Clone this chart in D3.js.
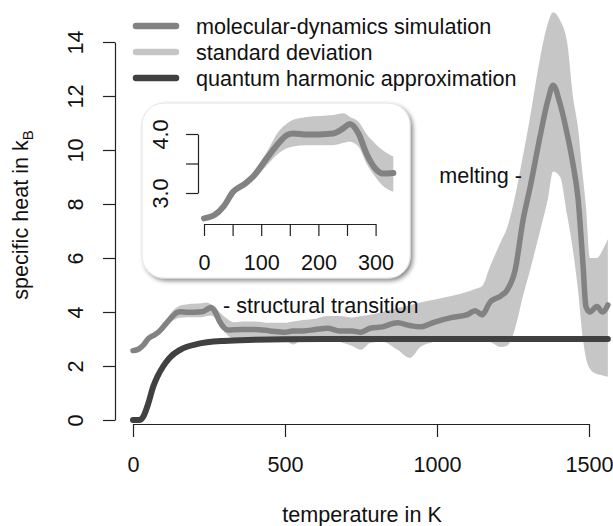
<!DOCTYPE html>
<html>
<head>
<meta charset="utf-8">
<script src="https://cdn.jsdelivr.net/npm/d3@7"></script>
<style>
  body { margin: 0; background: #fff; }
  text { font-family: "Liberation Sans", Arial, sans-serif; fill: #111; }
</style>
</head>
<body>
<div id="chart"></div>
<script>
// temperature grid (K) of the MD run
var temps = [0, 19, 34, 51, 72, 86, 110, 130, 145, 156, 180, 226, 244, 255, 270, 284, 299, 313, 331,
    360, 400, 450, 500, 526, 560, 600, 640, 680, 720, 750, 780, 820, 870, 911, 945, 990,
    1050, 1100, 1125, 1148, 1175, 1210, 1230, 1257, 1283, 1306, 1339, 1365, 1382, 1405,
    1428, 1447, 1464, 1480, 1490, 1503, 1526, 1545, 1562];
// mean specific heat (kB)
var mdMean = [2.57, 2.63, 2.77, 3.02, 3.16, 3.28, 3.59, 3.84, 3.98, 4.01, 3.99, 4.01, 4.1, 4.17, 4.01, 3.67, 3.42, 3.33, 3.34,
    3.35, 3.35, 3.3, 3.25, 3.3, 3.3, 3.35, 3.4, 3.3, 3.3, 3.25, 3.4, 3.45, 3.6, 3.5, 3.45, 3.62,
    3.8, 3.9, 4.05, 3.9, 4.37, 4.6, 4.8, 5.55, 7.4, 8.6, 10.5, 11.85, 12.4, 11.7,
    10.6, 9.5, 8.2, 5.8, 4.2, 4.0, 4.2, 4.0, 4.26];
// mean + standard deviation
var sdHigh = [2.6, 2.66, 2.81, 3.07, 3.22, 3.35, 3.7, 4.04, 4.18, 4.24, 4.29, 4.32, 4.35, 4.29, 4.21, 4.0, 3.84, 3.72, 3.62,
    3.65, 3.65, 3.6, 3.6, 3.65, 3.7, 3.75, 3.85, 3.85, 3.8, 3.85, 3.9, 4.0, 4.15, 4.25, 4.35, 4.45,
    4.6, 4.75, 4.85, 4.95, 5.7, 6.6, 7.1, 8.3, 9.8, 11.2, 13.4, 14.7, 15.1, 14.8,
    14.0, 12.0, 10.8, 9.0, 7.9, 6.0, 6.0, 6.3, 6.7];
// mean - standard deviation
var sdLow = [2.54, 2.6, 2.73, 2.97, 3.1, 3.21, 3.47, 3.67, 3.76, 3.79, 3.81, 3.81, 3.85, 3.87, 3.79, 3.5, 3.28, 3.12, 3.02,
    3.05, 3.05, 3.0, 2.95, 2.8, 3.0, 3.05, 3.05, 2.9, 2.75, 2.6, 2.85, 2.9, 2.6, 2.3, 2.7, 2.9,
    3.0, 3.0, 3.1, 3.0, 2.9, 2.7, 2.75, 3.4, 4.6, 5.55, 7.0, 8.2, 9.2, 9.0,
    7.6, 6.3, 4.8, 3.0, 2.3, 1.9, 1.7, 1.65, 1.6];

// quantum harmonic approximation
var qhTemps = [0, 20, 35, 50, 66, 80, 100, 120, 155, 210, 300, 400, 500, 700, 1000, 1300, 1562];
var qhHeat = [0, 0, 0.15, 0.6, 1.22, 1.6, 2.0, 2.3, 2.6, 2.81, 2.93, 2.97, 2.99, 3.0, 3.0, 3.0, 3.0];

var xTicks = [0, 500, 1000, 1500];
var yTicks = [0, 2, 4, 6, 8, 10, 12, 14];
var insetXTicks = [0, 50, 100, 150, 200, 250, 300];
var insetXLabels = [0, 100, 200, 300];
var insetYTicks = [3, 3.5, 4];
var insetYLabels = [3, 4];
var insetMaxT = 331;

var legendItems = ["molecular-dynamics simulation", "standard deviation", "quantum harmonic approximation"];

var colMean = "#828282", colSd = "#c6c6c6", colQh = "#404040";
var fontSize = 21.6;

var width = 613, height = 526;

var svg = d3.select("#chart").append("svg")
    .attr("width", width)
    .attr("height", height);

var data = temps.map(function(t, i) {
    return {t: t, m: mdMean[i], lo: sdLow[i], hi: sdHigh[i]};
});
var qhData = qhTemps.map(function(t, i) { return {t: t, c: qhHeat[i]}; });

//main panel
var x = d3.scaleLinear().domain([0, 1500]).range([133, 589]);
var y = d3.scaleLinear().domain([0, 14]).range([420, 42]);

svg.append("path")
    .datum(data)
    .attr("fill", colSd)
    .attr("d", d3.area().curve(d3.curveMonotoneX)
        .x(d => x(d.t)).y0(d => y(d.lo)).y1(d => y(d.hi)));

svg.append("path")
    .datum(qhData)
    .attr("fill", "none")
    .attr("stroke", colQh)
    .attr("stroke-width", 6)
    .attr("stroke-linecap", "round")
    .attr("d", d3.line().curve(d3.curveMonotoneX).x(d => x(d.t)).y(d => y(d.c)));

svg.append("path")
    .datum(data)
    .attr("fill", "none")
    .attr("stroke", colMean)
    .attr("stroke-width", 5.5)
    .attr("stroke-linecap", "round")
    .attr("stroke-linejoin", "round")
    .attr("d", d3.line().curve(d3.curveMonotoneX).x(d => x(d.t)).y(d => y(d.m)));

//axes
var xAxis = svg.append("g")
    .attr("transform", "translate(0,424)")
    .call(d3.axisBottom(x).tickValues(xTicks).tickSize(13).tickSizeOuter(0).tickFormat(d3.format("d")));
styleAxis(xAxis);
xAxis.selectAll("text").attr("y", 48).attr("dy", 0);

var yAxis = svg.append("g")
    .attr("transform", "translate(115,0)")
    .call(d3.axisLeft(y).tickValues(yTicks).tickSize(12).tickSizeOuter(0));
styleAxis(yAxis);
yAxis.selectAll("text")
    .attr("x", 0).attr("y", -32).attr("dy", 0)
    .attr("text-anchor", "middle")
    .attr("transform", "rotate(-90)");

svg.append("text")
    .attr("x", 362).attr("y", 522)
    .attr("text-anchor", "middle")
    .style("font-size", fontSize + "px")
    .text("temperature in K");

var yLab = svg.append("text")
    .attr("transform", "translate(28,215) rotate(-90)")
    .attr("text-anchor", "middle")
    .style("font-size", fontSize + "px");
yLab.append("tspan").text("specific heat in k");
yLab.append("tspan").attr("dy", 5).style("font-size", "15px").text("B");

//annotations
svg.append("text")
    .attr("x", 522).attr("y", 183)
    .attr("text-anchor", "end")
    .style("font-size", fontSize + "px")
    .text("melting -");

svg.append("text")
    .attr("x", 223).attr("y", 313)
    .style("font-size", fontSize + "px")
    .text("- structural transition");

//legend
var legendCols = [colMean, colSd, colQh];
var legend = svg.append("g");
legendItems.forEach(function(label, i) {
    var ly = 26 + i * 26;
    legend.append("line")
        .attr("x1", 136).attr("x2", 176)
        .attr("y1", ly).attr("y2", ly)
        .attr("stroke", legendCols[i])
        .attr("stroke-width", 6.5)
        .attr("stroke-linecap", "round");
    legend.append("text")
        .attr("x", 196).attr("y", ly + 8)
        .style("font-size", fontSize + "px")
        .text(label);
});

//inset
var defs = svg.append("defs");
defs.append("filter")
    .attr("id", "shadow")
    .attr("x", "-10%").attr("y", "-10%")
    .attr("width", "130%").attr("height", "130%")
    .append("feDropShadow")
    .attr("dx", 2.5).attr("dy", 2.5)
    .attr("stdDeviation", 2)
    .attr("flood-color", "#000")
    .attr("flood-opacity", 0.45);

svg.append("rect")
    .attr("x", 142).attr("y", 103)
    .attr("width", 268).attr("height", 175)
    .attr("rx", 22)
    .attr("fill", "#fff")
    .attr("stroke", "#e4e4e4")
    .attr("stroke-width", 1)
    .attr("filter", "url(#shadow)");

var xi = d3.scaleLinear().domain([0, 300]).range([204, 375.6]);
var yi = d3.scaleLinear().domain([3, 4]).range([193, 134]);
var insetData = data.filter(d => d.t <= insetMaxT);

svg.append("path")
    .datum(insetData)
    .attr("fill", colSd)
    .attr("d", d3.area().curve(d3.curveMonotoneX)
        .x(d => xi(d.t)).y0(d => yi(d.lo)).y1(d => yi(d.hi)));

svg.append("path")
    .datum(insetData)
    .attr("fill", "none")
    .attr("stroke", colMean)
    .attr("stroke-width", 6)
    .attr("stroke-linecap", "round")
    .attr("stroke-linejoin", "round")
    .attr("d", d3.line().curve(d3.curveMonotoneX).x(d => xi(d.t)).y(d => yi(d.m)));

var xiAxis = svg.append("g")
    .attr("transform", "translate(0,224)")
    .call(d3.axisBottom(xi).tickValues(insetXTicks).tickSize(12).tickSizeOuter(0)
        .tickFormat(d => insetXLabels.indexOf(d) >= 0 ? d : ""));
styleAxis(xiAxis);
xiAxis.selectAll("text").attr("y", 46).attr("dy", 0);

var yiAxis = svg.append("g")
    .attr("transform", "translate(198,0)")
    .call(d3.axisLeft(yi).tickValues(insetYTicks).tickSize(12).tickSizeOuter(0)
        .tickFormat(d => insetYLabels.indexOf(d) >= 0 ? d3.format(".1f")(d) : ""));
styleAxis(yiAxis);
yiAxis.selectAll("text")
    .attr("x", 0).attr("y", -30).attr("dy", 0)
    .attr("text-anchor", "middle")
    .attr("transform", "rotate(-90)");

function styleAxis(g) {
    g.select(".domain").attr("stroke", "#222").attr("stroke-width", 1.2);
    g.selectAll(".tick line").attr("stroke", "#222").attr("stroke-width", 1.2);
    g.selectAll("text")
        .attr("fill", "#111")
        .style("font-family", "'Liberation Sans', Arial, sans-serif")
        .style("font-size", fontSize + "px");
};
</script>
</body>
</html>
